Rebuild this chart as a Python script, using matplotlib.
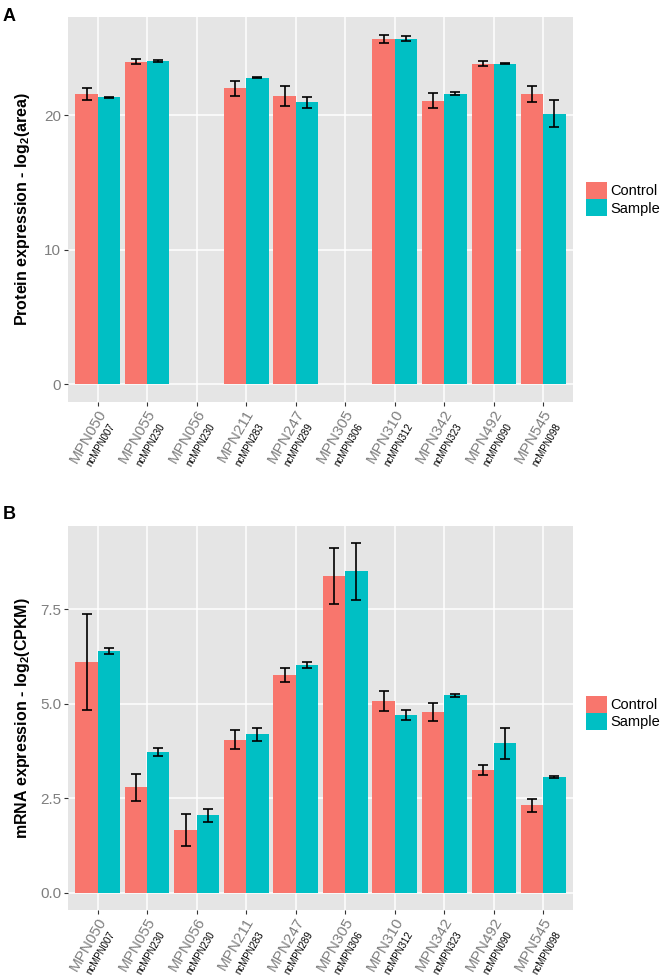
import numpy as np
import matplotlib
matplotlib.use("Agg")
import matplotlib.pyplot as plt
from matplotlib.patches import Patch
from matplotlib.transforms import blended_transform_factory, offset_copy

plt.rcParams["font.family"] = ["Liberation Sans", "DejaVu Sans"]
plt.rcParams["mathtext.fontset"] = "custom"
plt.rcParams["mathtext.rm"] = "Liberation Sans"
plt.rcParams["mathtext.bf"] = "Liberation Sans:bold"

nan = np.nan

genes = ["MPN050", "MPN055", "MPN056", "MPN211", "MPN247",
         "MPN305", "MPN310", "MPN342", "MPN492", "MPN545"]
srnas = ["ncMPN007", "ncMPN230", "ncMPN230", "ncMPN283", "ncMPN289",
         "ncMPN306", "ncMPN312", "ncMPN323", "ncMPN090", "ncMPN098"]

# panel A - protein, log2(area)
prot_control = [21.56, 23.99, nan, 22.01, 21.44, nan, 25.67, 21.09, 23.84, 21.56]
prot_control_err = [0.45, 0.22, nan, 0.56, 0.73, nan, 0.28, 0.53, 0.20, 0.60]
prot_sample = [21.34, 24.04, nan, 22.80, 20.97, nan, 25.70, 21.61, 23.84, 20.10]
prot_sample_err = [0.05, 0.05, nan, 0.05, 0.41, nan, 0.17, 0.10, 0.03, 1.00]

# panel B - mRNA, log2(CPKM)
mrna_control = [6.10, 2.79, 1.66, 4.05, 5.75, 8.37, 5.07, 4.78, 3.24, 2.31]
mrna_control_err = [1.27, 0.36, 0.42, 0.26, 0.19, 0.74, 0.27, 0.25, 0.14, 0.18]
mrna_sample = [6.40, 3.72, 2.05, 4.19, 6.02, 8.50, 4.71, 5.22, 3.95, 3.05]
mrna_sample_err = [0.08, 0.10, 0.17, 0.17, 0.09, 0.76, 0.13, 0.04, 0.41, 0.03]

RED = "#F8766D"
CYAN = "#00BFC4"
BG = "#E5E5E5"
TICKGREY = "#7F7F7F"

W, H = 660, 975
fig = plt.figure(figsize=(W / 100, H / 100), dpi=100)


def px_axes(left, top, right, bottom):
    return fig.add_axes([left / W, 1 - bottom / H, (right - left) / W, (bottom - top) / H])


def draw_panel(ax, control, cerr, sample, serr, ylim, yticks, yticklabels, ylabel, legend_y):
    x = np.arange(1, len(genes) + 1)
    ax.set_facecolor(BG)
    for s in ax.spines.values():
        s.set_visible(False)
    ax.set_axisbelow(True)
    ax.grid(True, color="white", linewidth=1.1)
    ax.bar(x - 0.225, control, width=0.45, color=RED, zorder=2)
    ax.bar(x + 0.225, sample, width=0.45, color=CYAN, zorder=2)
    ax.errorbar(x - 0.225, control, yerr=cerr, fmt="none", ecolor="black",
                elinewidth=1.2, capsize=3.6, capthick=1.2, zorder=3)
    ax.errorbar(x + 0.225, sample, yerr=serr, fmt="none", ecolor="black",
                elinewidth=1.2, capsize=3.6, capthick=1.2, zorder=3)
    ax.set_xlim(0.4, 10.6)
    ax.set_ylim(*ylim)
    ax.set_xticks(x)
    ax.set_xticklabels([""] * len(x))
    ax.set_yticks(yticks)
    ax.set_yticklabels(yticklabels, color=TICKGREY, fontsize=11)
    ax.tick_params(axis="both", length=3, width=0.8, color="#333333", pad=2)

    trans = blended_transform_factory(ax.transData, ax.transAxes)
    for i, (g, s) in enumerate(zip(genes, srnas)):
        ax.text(x[i], 0, g, transform=offset_copy(trans, fig=fig, x=-10, y=-34, units="dots"),
                rotation=60, ha="center", va="center", fontsize=11, color=TICKGREY)
        ax.text(x[i], 0, s, transform=offset_copy(trans, fig=fig, x=3.5, y=-43, units="dots"),
                rotation=60, ha="center", va="center", fontsize=7, color="black")

    ax.text(-0.091, 0.5, ylabel, transform=ax.transAxes, rotation=90,
            ha="center", va="center", fontsize=11.5, fontweight="bold")

    handles = [Patch(facecolor=RED, edgecolor="none", label="Control"),
               Patch(facecolor=CYAN, edgecolor="none", label="Sample")]
    ax.legend(handles=handles, loc="center left", bbox_to_anchor=(1.026, legend_y),
              frameon=False, fontsize=10.5, handlelength=1.4, handleheight=1.45,
              labelspacing=0.0, handletextpad=0.25, borderpad=0, borderaxespad=0)


axA = px_axes(68, 17, 573, 402)
draw_panel(axA, prot_control, prot_control_err, prot_sample, prot_sample_err,
           (-1.32, 27.3), [0, 10, 20], ["0", "10", "20"],
           r"Protein expression - log$_\mathbf{2}$(area)", 0.527)

axB = px_axes(68, 526, 573, 910)
draw_panel(axB, mrna_control, mrna_control_err, mrna_sample, mrna_sample_err,
           (-0.46, 9.7), [0, 2.5, 5, 7.5], ["0.0", "2.5", "5.0", "7.5"],
           r"mRNA expression - log$_\mathbf{2}$(CPKM)", 0.513)

fig.text(3 / W, 1 - 8 / H, "A", fontsize=13, fontweight="bold", va="top", ha="left")
fig.text(3 / W, 1 - 506 / H, "B", fontsize=13, fontweight="bold", va="top", ha="left")

fig.savefig("out.png", dpi=100)
